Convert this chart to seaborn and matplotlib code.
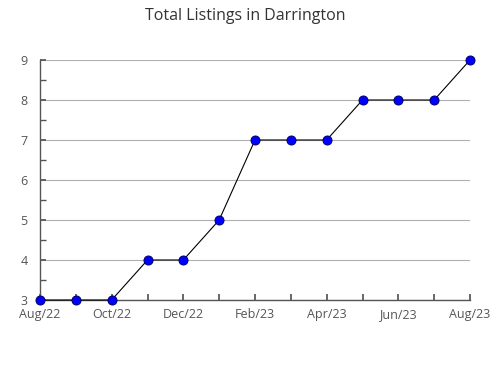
import matplotlib
matplotlib.use("Agg")
import matplotlib.pyplot as plt
import seaborn as sns
import pandas as pd
import numpy as np
from matplotlib.ticker import MultipleLocator

months = ["Aug/22", "Sep/22", "Oct/22", "Nov/22", "Dec/22", "Jan/23", "Feb/23",
          "Mar/23", "Apr/23", "May/23", "Jun/23", "Jul/23", "Aug/23"]
listings = [3, 3, 3, 4, 4, 5, 7, 7, 7, 8, 8, 8, 9]
yticks = [3, 4, 5, 6, 7, 8, 9]

sns.set_theme(style="white")
plt.rcParams['font.family'] = ['Open Sans', 'DejaVu Sans']

df = pd.DataFrame({"idx": np.arange(len(months)), "month": months, "value": listings})

fig = plt.figure(figsize=(4.9, 3.8), dpi=100)
ax = fig.add_axes([40/490, 80/380, 430/490, 240/380])

for y in yticks:
    ax.axhline(y, color="#b0b0b0", lw=0.8, zorder=0)

sns.lineplot(data=df, x="idx", y="value", ax=ax, color="black", lw=0.8,
             marker="o", markersize=6.5, markerfacecolor="#0000ff",
             markeredgecolor="#000066", markeredgewidth=0.7, clip_on=False, zorder=3)

ax.set_xlim(0, len(months) - 1)
ax.set_ylim(3, 9)
ax.set_xticks(df["idx"])
ax.set_xticklabels([m if i % 2 == 0 else "" for i, m in enumerate(months)])
ax.set_yticks(yticks)
ax.yaxis.set_minor_locator(MultipleLocator(0.5))
ax.tick_params(axis="x", direction="in", length=4, color="#555555", labelsize=9,
               labelcolor="#555555", pad=6, bottom=True)
ax.tick_params(axis="y", which="both", direction="in", length=4, color="#555555",
               labelsize=9, labelcolor="#555555", pad=9, left=True)
ax.set_xlabel("")
ax.set_ylabel("")
for s in ["top", "right"]:
    ax.spines[s].set_visible(False)
for s in ["left", "bottom"]:
    ax.spines[s].set_color("#555555")
    ax.spines[s].set_linewidth(1)

fig.text(245/490, 1 - 16/380, "Total Listings in Darrington", ha="center", va="center",
         fontsize=11.5, color="#333333")

fig.savefig("out.png", dpi=100)
